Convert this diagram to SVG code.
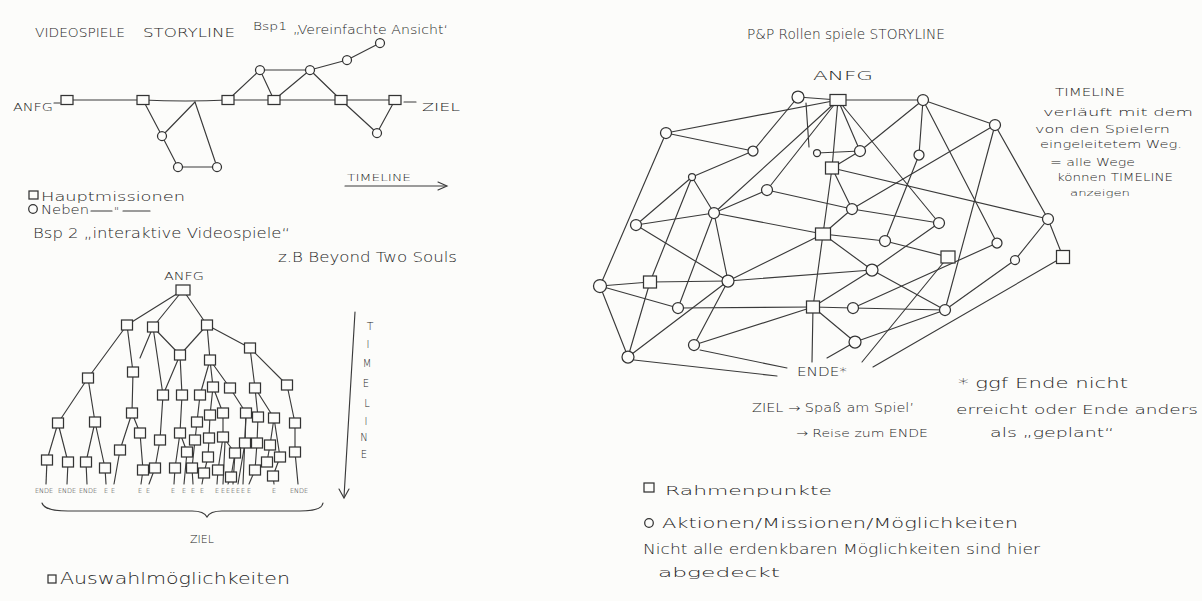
<svg xmlns="http://www.w3.org/2000/svg" width="1202" height="601" viewBox="0 0 1202 601">
<style>
.e{stroke:#3a3a3a;stroke-width:1.15;fill:none;stroke-linecap:round}
.n{fill:#fcfcfa;stroke:#333;stroke-width:1.25}
.t{font-family:"DejaVu Sans","Liberation Sans",Arial,sans-serif;font-weight:200;fill:#262626}
.lb{font-family:"DejaVu Sans","Liberation Sans",Arial,sans-serif;font-weight:200;fill:#262626;font-size:6.5px;text-anchor:middle}
</style>
<rect width="1202" height="601" fill="#fcfcfa"/>

<!-- ===== Example 1: simplified linear storyline ===== -->
<g id="ex1-texts" class="t">
  <text x="35" y="37" font-size="12.5" textLength="90" lengthAdjust="spacingAndGlyphs">VIDEOSPIELE</text>
  <text x="143" y="37" font-size="12.5" textLength="92" lengthAdjust="spacingAndGlyphs">STORYLINE</text>
  <text x="253" y="30" font-size="10" textLength="34" lengthAdjust="spacingAndGlyphs">Bsp1</text>
  <text x="293" y="34" font-size="13" textLength="155" lengthAdjust="spacingAndGlyphs">„Vereinfachte Ansicht‘</text>
  <text x="13" y="111" font-size="11" textLength="40" lengthAdjust="spacingAndGlyphs">ANFG</text>
  <text x="422" y="111" font-size="11" textLength="38" lengthAdjust="spacingAndGlyphs">ZIEL</text>
  <text x="347" y="181" font-size="9" textLength="64" lengthAdjust="spacingAndGlyphs">TIMELINE</text>
</g>
<g id="ex1-edges" class="e">
  <line x1="54" y1="103" x2="60" y2="103"/>
  <line x1="67" y1="100" x2="143" y2="100"/>
  <path d="M143,100 Q185,102 228,100"/>
  <line x1="143" y1="100" x2="162" y2="136"/>
  <line x1="162" y1="136" x2="195" y2="102"/>
  <line x1="195" y1="102" x2="217" y2="167"/>
  <line x1="162" y1="136" x2="178" y2="167"/>
  <line x1="178" y1="167" x2="217" y2="167"/>
  <line x1="228" y1="100" x2="260" y2="70"/>
  <line x1="260" y1="70" x2="274" y2="100"/>
  <line x1="260" y1="70" x2="310" y2="70"/>
  <line x1="228" y1="100" x2="274" y2="100"/>
  <line x1="274" y1="100" x2="310" y2="70"/>
  <line x1="310" y1="70" x2="341" y2="100"/>
  <line x1="310" y1="70" x2="347" y2="60"/>
  <line x1="347" y1="60" x2="380" y2="43"/>
  <line x1="274" y1="100" x2="341" y2="100"/>
  <line x1="341" y1="100" x2="395" y2="100"/>
  <line x1="341" y1="100" x2="377" y2="133"/>
  <line x1="377" y1="133" x2="395" y2="100"/>
  <line x1="404" y1="102" x2="416" y2="102"/>
  <line x1="345" y1="186" x2="446" y2="186"/>
  <path d="M438,182 L447,186 L438,190"/>
</g>
<g id="ex1-s1"><rect class="n" x="61" y="95.5" width="12" height="9"/></g>
<g id="ex1-s2"><rect class="n" x="137" y="95.5" width="12" height="9"/></g>
<g id="ex1-s3"><rect class="n" x="222" y="95.5" width="12" height="9"/></g>
<g id="ex1-s4"><rect class="n" x="268" y="95.5" width="12" height="9"/></g>
<g id="ex1-s5"><rect class="n" x="335" y="95.5" width="12" height="9"/></g>
<g id="ex1-s6"><rect class="n" x="389" y="95.5" width="12" height="9"/></g>
<g id="ex1-c1"><circle class="n" cx="260" cy="70" r="4.5"/></g>
<g id="ex1-c2"><circle class="n" cx="310" cy="70" r="4.5"/></g>
<g id="ex1-c3"><circle class="n" cx="347" cy="60" r="4.5"/></g>
<g id="ex1-c4"><circle class="n" cx="380" cy="43" r="4.5"/></g>
<g id="ex1-c5"><circle class="n" cx="162" cy="136" r="4.5"/></g>
<g id="ex1-c6"><circle class="n" cx="178" cy="167" r="4.5"/></g>
<g id="ex1-c7"><circle class="n" cx="217" cy="167" r="4.5"/></g>
<g id="ex1-c8"><circle class="n" cx="377" cy="133" r="4.5"/></g>

<!-- legend of example 1 -->
<g id="ex1-legend" class="t">
  <rect class="n" x="29" y="191" width="9" height="8"/>
  <text x="41" y="201" font-size="13" textLength="144" lengthAdjust="spacingAndGlyphs">Hauptmissionen</text>
  <circle class="n" cx="33" cy="209" r="4.3"/>
  <text x="41" y="214" font-size="12" textLength="48" lengthAdjust="spacingAndGlyphs">Neben</text>
  <line class="e" x1="91" y1="211" x2="112" y2="211"/>
  <text x="114" y="215" font-size="11">"</text>
  <line class="e" x1="123" y1="211" x2="150" y2="211"/>
</g>

<!-- ===== Example 2: branching storyline tree ===== -->
<g id="ex2-texts" class="t">
  <text x="33" y="238" font-size="14" textLength="257" lengthAdjust="spacingAndGlyphs">Bsp 2  „interaktive  Videospiele“</text>
  <text x="278" y="262" font-size="14" textLength="179" lengthAdjust="spacingAndGlyphs">z.B Beyond Two Souls</text>
  <text x="164" y="280" font-size="11" textLength="40" lengthAdjust="spacingAndGlyphs">ANFG</text>
  <text x="190" y="543" font-size="11" textLength="24" lengthAdjust="spacingAndGlyphs">ZIEL</text>
  <rect class="n" x="48" y="575" width="8" height="8"/>
  <text x="60" y="584" font-size="15" textLength="230" lengthAdjust="spacingAndGlyphs">Auswahlmöglichkeiten</text>
</g>
<g id="ex2-timeline" class="t">
  <line class="e" x1="355" y1="312" x2="344" y2="497"/>
  <path class="e" d="M339,489 L344,498 L349,489"/>
  <text x="370" y="330" font-size="11" text-anchor="middle">T</text>
  <text x="368" y="348" font-size="10" text-anchor="middle">I</text>
  <text x="367" y="367" font-size="10" text-anchor="middle">M</text>
  <text x="366" y="387" font-size="10" text-anchor="middle">E</text>
  <text x="367" y="407" font-size="10" text-anchor="middle">L</text>
  <text x="366" y="425" font-size="10" text-anchor="middle">I</text>
  <text x="364" y="441" font-size="10" text-anchor="middle">N</text>
  <text x="364" y="458" font-size="10" text-anchor="middle">E</text>
</g>
<g id="ex2-edges" class="e">
  <line x1="183" y1="290" x2="127" y2="325"/>
  <line x1="183" y1="290" x2="153" y2="327"/>
  <line x1="183" y1="290" x2="207" y2="325"/>
  <line x1="127" y1="325" x2="88" y2="378"/>
  <line x1="127" y1="325" x2="133" y2="372"/>
  <line x1="153" y1="327" x2="163" y2="395"/>
  <line x1="153" y1="327" x2="180" y2="355"/>
  <line x1="153" y1="327" x2="140" y2="358"/>
  <line x1="207" y1="325" x2="180" y2="355"/>
  <line x1="207" y1="325" x2="210" y2="360"/>
  <line x1="207" y1="325" x2="250" y2="348"/>
  <line x1="180" y1="355" x2="163" y2="395"/>
  <line x1="180" y1="355" x2="182" y2="395"/>
  <line x1="210" y1="360" x2="200" y2="395"/>
  <line x1="210" y1="360" x2="213" y2="387"/>
  <line x1="210" y1="360" x2="230" y2="388"/>
  <line x1="250" y1="348" x2="255" y2="388"/>
  <line x1="250" y1="348" x2="287" y2="385"/>
  <line x1="88" y1="378" x2="58" y2="423"/>
  <line x1="88" y1="378" x2="95" y2="422"/>
  <line x1="133" y1="372" x2="132" y2="413"/>
  <line x1="163" y1="395" x2="160" y2="440"/>
  <line x1="182" y1="395" x2="180" y2="433"/>
  <line x1="200" y1="395" x2="197" y2="422"/>
  <line x1="213" y1="387" x2="210" y2="415"/>
  <line x1="213" y1="387" x2="223" y2="413"/>
  <line x1="230" y1="388" x2="246" y2="413"/>
  <line x1="255" y1="388" x2="258" y2="417"/>
  <line x1="255" y1="388" x2="274" y2="418"/>
  <line x1="287" y1="385" x2="295" y2="423"/>
  <line x1="58" y1="423" x2="47" y2="460"/>
  <line x1="58" y1="423" x2="68" y2="462"/>
  <line x1="95" y1="422" x2="86" y2="462"/>
  <line x1="95" y1="422" x2="105" y2="468"/>
  <line x1="132" y1="413" x2="120" y2="450"/>
  <line x1="132" y1="413" x2="140" y2="433"/>
  <line x1="140" y1="433" x2="143" y2="470"/>
  <line x1="160" y1="440" x2="155" y2="468"/>
  <line x1="180" y1="433" x2="175" y2="468"/>
  <line x1="180" y1="433" x2="187" y2="452"/>
  <line x1="197" y1="422" x2="195" y2="440"/>
  <line x1="195" y1="440" x2="192" y2="468"/>
  <line x1="210" y1="415" x2="209" y2="438"/>
  <line x1="209" y1="438" x2="208" y2="457"/>
  <line x1="208" y1="457" x2="204" y2="473"/>
  <line x1="223" y1="413" x2="223" y2="437"/>
  <line x1="223" y1="437" x2="218" y2="470"/>
  <line x1="223" y1="437" x2="235" y2="453"/>
  <line x1="235" y1="453" x2="231" y2="477"/>
  <line x1="246" y1="413" x2="245" y2="443"/>
  <line x1="258" y1="417" x2="257" y2="443"/>
  <line x1="257" y1="443" x2="255" y2="470"/>
  <line x1="274" y1="418" x2="270" y2="445"/>
  <line x1="274" y1="418" x2="280" y2="457"/>
  <line x1="270" y1="445" x2="267" y2="462"/>
  <line x1="280" y1="457" x2="273" y2="476"/>
  <line x1="295" y1="423" x2="295" y2="452"/>
  <!-- drops to the endings -->
  <line x1="47" y1="460" x2="46" y2="484"/>
  <line x1="68" y1="462" x2="67" y2="484"/>
  <line x1="86" y1="462" x2="87" y2="484"/>
  <line x1="105" y1="468" x2="106" y2="484"/>
  <line x1="120" y1="450" x2="114" y2="484"/>
  <line x1="143" y1="470" x2="141" y2="484"/>
  <line x1="155" y1="468" x2="149" y2="484"/>
  <line x1="175" y1="468" x2="174" y2="484"/>
  <line x1="187" y1="452" x2="184" y2="484"/>
  <line x1="192" y1="468" x2="193" y2="484"/>
  <line x1="204" y1="473" x2="202" y2="484"/>
  <line x1="218" y1="470" x2="217" y2="484"/>
  <line x1="225" y1="442" x2="223" y2="484"/>
  <line x1="231" y1="477" x2="228" y2="484"/>
  <line x1="235" y1="453" x2="233" y2="484"/>
  <line x1="245" y1="443" x2="238" y2="484"/>
  <line x1="246" y1="413" x2="243" y2="484"/>
  <line x1="255" y1="470" x2="249" y2="484"/>
  <line x1="273" y1="476" x2="274" y2="484"/>
  <line x1="295" y1="452" x2="298" y2="484"/>
  <!-- brace over the endings -->
  <path d="M42,503 Q44,511 68,511 L192,511 Q204,511 207,517 Q210,511 222,511 L300,511 Q322,511 323,503"/>
</g>
<g id="ex2-endings">
  <text class="lb" x="44" y="493">ENDE</text>
  <text class="lb" x="67" y="493">ENDE</text>
  <text class="lb" x="88" y="493">ENDE</text>
  <text class="lb" x="106" y="493">E</text>
  <text class="lb" x="113" y="493">E</text>
  <text class="lb" x="140" y="493">E</text>
  <text class="lb" x="148" y="493">E</text>
  <text class="lb" x="173" y="493">E</text>
  <text class="lb" x="184" y="493">E</text>
  <text class="lb" x="193" y="493">E</text>
  <text class="lb" x="202" y="493">E</text>
  <text class="lb" x="217" y="493">E</text>
  <text class="lb" x="223" y="493">E</text>
  <text class="lb" x="228" y="493">E</text>
  <text class="lb" x="233" y="493">E</text>
  <text class="lb" x="238" y="493">E</text>
  <text class="lb" x="243" y="493">E</text>
  <text class="lb" x="249" y="493">E</text>
  <text class="lb" x="274" y="493">E</text>
  <text class="lb" x="299" y="493">ENDE</text>
</g>
<g id="t-r"><rect class="n" x="176" y="285" width="14" height="10"/></g>
<g id="t-a"><rect class="n" x="121.5" y="320" width="11" height="10"/></g>
<g id="t-b"><rect class="n" x="147.5" y="322" width="11" height="10"/></g>
<g id="t-c"><rect class="n" x="201.5" y="320" width="11" height="10"/></g>
<g id="t-c1"><rect class="n" x="174.5" y="350" width="11" height="10"/></g>
<g id="t-c2"><rect class="n" x="204.5" y="355" width="11" height="10"/></g>
<g id="t-c3"><rect class="n" x="244.5" y="343" width="11" height="10"/></g>
<g id="t-a1"><rect class="n" x="82.5" y="373" width="11" height="10"/></g>
<g id="t-a2"><rect class="n" x="127.5" y="367" width="11" height="10"/></g>
<g id="t-d1"><rect class="n" x="157.5" y="390" width="11" height="10"/></g>
<g id="t-d2"><rect class="n" x="176.5" y="390" width="11" height="10"/></g>
<g id="t-d3"><rect class="n" x="194.5" y="390" width="11" height="10"/></g>
<g id="t-d4"><rect class="n" x="207.5" y="382" width="11" height="10"/></g>
<g id="t-d5"><rect class="n" x="224.5" y="383" width="11" height="10"/></g>
<g id="t-d6"><rect class="n" x="249.5" y="383" width="11" height="10"/></g>
<g id="t-d7"><rect class="n" x="281.5" y="380" width="11" height="10"/></g>
<g id="t-e1"><rect class="n" x="52.5" y="418" width="11" height="10"/></g>
<g id="t-e2"><rect class="n" x="89.5" y="417" width="11" height="10"/></g>
<g id="t-e3"><rect class="n" x="126.5" y="408" width="11" height="10"/></g>
<g id="t-e4"><rect class="n" x="191.5" y="417" width="11" height="10"/></g>
<g id="t-e5"><rect class="n" x="204.5" y="410" width="11" height="10"/></g>
<g id="t-e6"><rect class="n" x="217.5" y="408" width="11" height="10"/></g>
<g id="t-e7"><rect class="n" x="240.5" y="408" width="11" height="10"/></g>
<g id="t-e8"><rect class="n" x="252.5" y="412" width="11" height="10"/></g>
<g id="t-e9"><rect class="n" x="268.5" y="413" width="11" height="10"/></g>
<g id="t-e10"><rect class="n" x="289.5" y="418" width="11" height="10"/></g>
<g id="t-f1"><rect class="n" x="134.5" y="428" width="11" height="10"/></g>
<g id="t-f2"><rect class="n" x="154.5" y="435" width="11" height="10"/></g>
<g id="t-f3"><rect class="n" x="174.5" y="428" width="11" height="10"/></g>
<g id="t-f4"><rect class="n" x="189.5" y="435" width="11" height="10"/></g>
<g id="t-f5"><rect class="n" x="203.5" y="433" width="11" height="10"/></g>
<g id="t-f6"><rect class="n" x="217.5" y="432" width="11" height="10"/></g>
<g id="t-f7"><rect class="n" x="239.5" y="438" width="11" height="10"/></g>
<g id="t-f8"><rect class="n" x="251.5" y="438" width="11" height="10"/></g>
<g id="t-f9"><rect class="n" x="264.5" y="440" width="11" height="10"/></g>
<g id="t-g1"><rect class="n" x="114.5" y="445" width="11" height="10"/></g>
<g id="t-g2"><rect class="n" x="181.5" y="447" width="11" height="10"/></g>
<g id="t-g3"><rect class="n" x="229.5" y="448" width="11" height="10"/></g>
<g id="t-g4"><rect class="n" x="261.5" y="457" width="11" height="10"/></g>
<g id="t-g5"><rect class="n" x="274.5" y="452" width="11" height="10"/></g>
<g id="t-g6"><rect class="n" x="289.5" y="447" width="11" height="10"/></g>
<g id="t-g7"><rect class="n" x="202.5" y="452" width="11" height="10"/></g>
<g id="t-h1"><rect class="n" x="41.5" y="455" width="11" height="10"/></g>
<g id="t-h2"><rect class="n" x="62.5" y="457" width="11" height="10"/></g>
<g id="t-h3"><rect class="n" x="80.5" y="457" width="11" height="10"/></g>
<g id="t-h4"><rect class="n" x="99.5" y="463" width="11" height="10"/></g>
<g id="t-h5"><rect class="n" x="137.5" y="465" width="11" height="10"/></g>
<g id="t-h6"><rect class="n" x="149.5" y="463" width="11" height="10"/></g>
<g id="t-h7"><rect class="n" x="169.5" y="463" width="11" height="10"/></g>
<g id="t-h8"><rect class="n" x="186.5" y="463" width="11" height="10"/></g>
<g id="t-h9"><rect class="n" x="198.5" y="468" width="11" height="10"/></g>
<g id="t-h10"><rect class="n" x="212.5" y="465" width="11" height="10"/></g>
<g id="t-h11"><rect class="n" x="225.5" y="472" width="11" height="10"/></g>
<g id="t-h12"><rect class="n" x="249.5" y="465" width="11" height="10"/></g>
<g id="t-h13"><rect class="n" x="267.5" y="471" width="11" height="10"/></g>

<!-- ===== Pen & paper role-play storyline network ===== -->
<g id="rpg-texts" class="t">
  <text x="747" y="39" font-size="14" textLength="198" lengthAdjust="spacingAndGlyphs">P&amp;P Rollen spiele STORYLINE</text>
  <text x="813" y="80" font-size="12" textLength="60" lengthAdjust="spacingAndGlyphs">ANFG</text>
  <text x="797" y="376" font-size="12" textLength="50" lengthAdjust="spacingAndGlyphs">ENDE*</text>
  <text x="1055" y="96" font-size="10" textLength="70" lengthAdjust="spacingAndGlyphs">TIMELINE</text>
  <text x="1043" y="116" font-size="11" textLength="150" lengthAdjust="spacingAndGlyphs">verläuft  mit dem</text>
  <text x="1035" y="133" font-size="10" textLength="135" lengthAdjust="spacingAndGlyphs">von den Spielern</text>
  <text x="1040" y="148" font-size="11" textLength="142" lengthAdjust="spacingAndGlyphs">eingeleitetem Weg.</text>
  <text x="1050" y="166" font-size="11" textLength="85" lengthAdjust="spacingAndGlyphs">= alle Wege</text>
  <text x="1057" y="181" font-size="10" textLength="116" lengthAdjust="spacingAndGlyphs">können TIMELINE</text>
  <text x="1070" y="196" font-size="9" textLength="60" lengthAdjust="spacingAndGlyphs">anzeigen</text>
  <text x="752" y="412" font-size="12" textLength="162" lengthAdjust="spacingAndGlyphs">ZIEL → Spaß am Spiel’</text>
  <text x="796" y="437" font-size="11" textLength="132" lengthAdjust="spacingAndGlyphs">→ Reise zum ENDE</text>
  <text x="958" y="388" font-size="14" textLength="170" lengthAdjust="spacingAndGlyphs">* ggf  Ende nicht</text>
  <text x="956" y="414" font-size="13" textLength="242" lengthAdjust="spacingAndGlyphs">erreicht oder Ende anders</text>
  <text x="990" y="437" font-size="13" textLength="124" lengthAdjust="spacingAndGlyphs">als „geplant“</text>
</g>
<g id="rpg-legend" class="t">
  <rect class="n" x="644" y="483" width="10" height="9"/>
  <text x="665" y="495" font-size="13" textLength="167" lengthAdjust="spacingAndGlyphs">Rahmenpunkte</text>
  <circle class="n" cx="649" cy="523" r="4.3"/>
  <text x="662" y="528" font-size="14" textLength="356" lengthAdjust="spacingAndGlyphs">Aktionen/Missionen/Möglichkeiten</text>
  <text x="643" y="554" font-size="14" textLength="397" lengthAdjust="spacingAndGlyphs">Nicht alle erdenkbaren Möglichkeiten sind hier</text>
  <text x="658" y="577" font-size="13" textLength="122" lengthAdjust="spacingAndGlyphs">abgedeckt</text>
</g>
<g id="rpg-edges" class="e">
  <line x1="798" y1="97" x2="838" y2="100"/>
  <line x1="838" y1="100" x2="923" y2="100"/>
  <line x1="666" y1="133" x2="838" y2="100"/>
  <line x1="666" y1="133" x2="753" y2="151"/>
  <line x1="666" y1="133" x2="600" y2="286"/>
  <line x1="798" y1="97" x2="753" y2="151"/>
  <line x1="806" y1="103" x2="809" y2="147"/>
  <line x1="838" y1="100" x2="832" y2="168"/>
  <line x1="817" y1="153" x2="860" y2="151"/>
  <line x1="838" y1="100" x2="860" y2="151"/>
  <line x1="838" y1="100" x2="714" y2="213"/>
  <line x1="838" y1="100" x2="767" y2="190"/>
  <line x1="838" y1="100" x2="939" y2="223"/>
  <line x1="860" y1="151" x2="923" y2="100"/>
  <line x1="753" y1="151" x2="692" y2="177"/>
  <line x1="692" y1="177" x2="714" y2="213"/>
  <line x1="692" y1="177" x2="636" y2="225"/>
  <line x1="692" y1="177" x2="650" y2="282"/>
  <line x1="650" y1="282" x2="628" y2="357"/>
  <line x1="767" y1="190" x2="852" y2="209"/>
  <line x1="767" y1="190" x2="714" y2="213"/>
  <line x1="832" y1="168" x2="852" y2="209"/>
  <line x1="832" y1="168" x2="823" y2="234"/>
  <line x1="832" y1="168" x2="1048" y2="219"/>
  <line x1="832" y1="168" x2="860" y2="151"/>
  <line x1="714" y1="213" x2="636" y2="225"/>
  <line x1="714" y1="213" x2="823" y2="234"/>
  <line x1="714" y1="213" x2="728" y2="281"/>
  <line x1="714" y1="213" x2="678" y2="308"/>
  <line x1="636" y1="225" x2="728" y2="281"/>
  <line x1="728" y1="281" x2="823" y2="234"/>
  <line x1="728" y1="281" x2="872" y2="270"/>
  <line x1="872" y1="270" x2="813" y2="307"/>
  <line x1="650" y1="282" x2="728" y2="281"/>
  <line x1="600" y1="286" x2="650" y2="282"/>
  <line x1="600" y1="286" x2="678" y2="308"/>
  <line x1="600" y1="286" x2="628" y2="357"/>
  <line x1="678" y1="308" x2="813" y2="307"/>
  <line x1="813" y1="307" x2="853" y2="308"/>
  <line x1="823" y1="234" x2="813" y2="307"/>
  <line x1="823" y1="234" x2="872" y2="270"/>
  <line x1="823" y1="234" x2="885" y2="241"/>
  <line x1="852" y1="209" x2="823" y2="234"/>
  <line x1="728" y1="281" x2="694" y2="345"/>
  <line x1="728" y1="281" x2="628" y2="357"/>
  <line x1="694" y1="345" x2="813" y2="307"/>
  <line x1="813" y1="307" x2="855" y2="342"/>
  <line x1="813" y1="307" x2="812" y2="362"/>
  <line x1="855" y1="342" x2="827" y2="358"/>
  <line x1="700" y1="350" x2="787" y2="368"/>
  <line x1="634" y1="360" x2="777" y2="376"/>
  <line x1="923" y1="100" x2="995" y2="125"/>
  <line x1="923" y1="100" x2="919" y2="155"/>
  <line x1="923" y1="100" x2="997" y2="243"/>
  <line x1="995" y1="125" x2="1048" y2="219"/>
  <line x1="995" y1="125" x2="945" y2="310"/>
  <line x1="995" y1="125" x2="852" y2="209"/>
  <line x1="919" y1="155" x2="885" y2="241"/>
  <line x1="852" y1="209" x2="939" y2="223"/>
  <line x1="939" y1="223" x2="872" y2="270"/>
  <line x1="885" y1="241" x2="948" y2="257"/>
  <line x1="1048" y1="219" x2="1015" y2="260"/>
  <line x1="1048" y1="219" x2="1063" y2="257"/>
  <line x1="872" y1="270" x2="945" y2="310"/>
  <line x1="853" y1="308" x2="945" y2="310"/>
  <line x1="853" y1="308" x2="997" y2="243"/>
  <line x1="855" y1="342" x2="945" y2="310"/>
  <line x1="945" y1="310" x2="1015" y2="260"/>
  <line x1="862" y1="362" x2="948" y2="257"/>
  <line x1="873" y1="367" x2="1063" y2="257"/>
</g>
<g id="rpg-s1"><rect class="n" x="830" y="94.5" width="16" height="11"/></g>
<g id="rpg-s2"><rect class="n" x="825.5" y="162" width="13" height="12"/></g>
<g id="rpg-s3"><rect class="n" x="815.5" y="228" width="15" height="12"/></g>
<g id="rpg-s4"><rect class="n" x="643.5" y="276" width="13" height="12"/></g>
<g id="rpg-s5"><rect class="n" x="806.5" y="301" width="13" height="12"/></g>
<g id="rpg-s6"><rect class="n" x="941" y="251" width="14" height="12"/></g>
<g id="rpg-s7"><rect class="n" x="1056.5" y="250.5" width="13" height="13"/></g>
<g id="rpg-c1"><circle class="n" cx="798" cy="97" r="6"/></g>
<g id="rpg-c2"><circle class="n" cx="666" cy="133" r="5.5"/></g>
<g id="rpg-c3"><circle class="n" cx="753" cy="151" r="5"/></g>
<g id="rpg-c4"><circle class="n" cx="817" cy="153" r="3.5"/></g>
<g id="rpg-c5"><circle class="n" cx="860" cy="151" r="5.5"/></g>
<g id="rpg-c6"><circle class="n" cx="692" cy="177" r="3.5"/></g>
<g id="rpg-c7"><circle class="n" cx="767" cy="190" r="5.5"/></g>
<g id="rpg-c8"><circle class="n" cx="852" cy="209" r="5.5"/></g>
<g id="rpg-c9"><circle class="n" cx="714" cy="213" r="5.5"/></g>
<g id="rpg-c10"><circle class="n" cx="636" cy="225" r="5.5"/></g>
<g id="rpg-c11"><circle class="n" cx="872" cy="270" r="6"/></g>
<g id="rpg-c12"><circle class="n" cx="728" cy="281" r="6"/></g>
<g id="rpg-c13"><circle class="n" cx="600" cy="286" r="6.5"/></g>
<g id="rpg-c14"><circle class="n" cx="678" cy="308" r="5.5"/></g>
<g id="rpg-c15"><circle class="n" cx="853" cy="308" r="5.5"/></g>
<g id="rpg-c16"><circle class="n" cx="694" cy="345" r="5.5"/></g>
<g id="rpg-c17"><circle class="n" cx="855" cy="342" r="6"/></g>
<g id="rpg-c18"><circle class="n" cx="628" cy="357" r="6"/></g>
<g id="rpg-c19"><circle class="n" cx="923" cy="100" r="5.5"/></g>
<g id="rpg-c20"><circle class="n" cx="995" cy="125" r="5.5"/></g>
<g id="rpg-c21"><circle class="n" cx="919" cy="155" r="5"/></g>
<g id="rpg-c22"><circle class="n" cx="939" cy="223" r="5.5"/></g>
<g id="rpg-c23"><circle class="n" cx="1048" cy="219" r="5.5"/></g>
<g id="rpg-c24"><circle class="n" cx="885" cy="241" r="5.5"/></g>
<g id="rpg-c25"><circle class="n" cx="997" cy="243" r="5"/></g>
<g id="rpg-c26"><circle class="n" cx="1015" cy="260" r="4.5"/></g>
<g id="rpg-c27"><circle class="n" cx="945" cy="310" r="5.5"/></g>
</svg>
